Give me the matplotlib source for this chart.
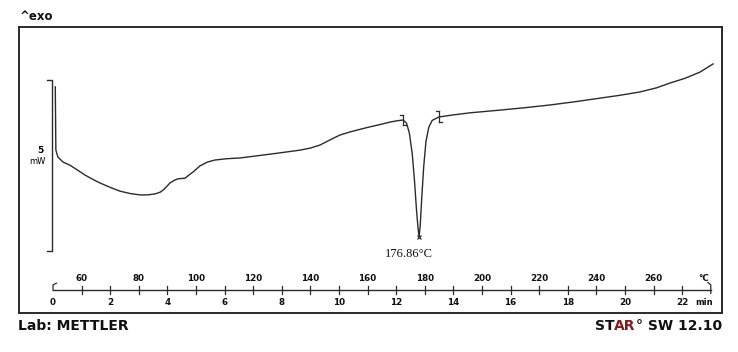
import matplotlib.pyplot as plt

# DSC curve: time (min) vs heat flow (mW, exo up)
time_min = [0.08, 0.10, 0.17, 0.35, 0.59, 0.85, 1.12, 1.38, 1.64, 2.00, 2.34,
            2.70, 3.04, 3.30, 3.57, 3.75, 3.85, 3.97, 4.09, 4.25, 4.37, 4.50,
            4.62, 4.75, 4.90, 5.14, 5.40, 5.66, 6.10, 6.54, 7.20, 7.94, 8.64,
            9.00, 9.34, 9.69, 10.03, 10.38, 10.70, 11.08, 11.45, 11.78, 12.05,
            12.24, 12.36, 12.46, 12.56, 12.64, 12.71, 12.76, 12.80, 12.84,
            12.89, 12.96, 13.04, 13.14, 13.26, 13.50, 14.00, 14.58, 15.63,
            16.50, 17.38, 18.30, 19.13, 19.80, 20.52, 21.10, 21.57, 22.10,
            22.62, 23.08]
heat_flow_mw = [4.80, 2.95, 2.75, 2.60, 2.51, 2.37, 2.22, 2.10, 1.99, 1.86,
                1.75, 1.68, 1.64, 1.64, 1.67, 1.72, 1.78, 1.88, 1.99, 2.07,
                2.11, 2.12, 2.13, 2.22, 2.31, 2.49, 2.60, 2.66, 2.70, 2.72,
                2.79, 2.87, 2.95, 3.01, 3.10, 3.25, 3.39, 3.48, 3.55, 3.63,
                3.70, 3.77, 3.81, 3.83, 3.74, 3.45, 2.85, 2.05, 1.20, 0.70,
                0.41, 0.75, 1.50, 2.45, 3.20, 3.62, 3.82, 3.92, 3.98, 4.04,
                4.12, 4.19, 4.27, 4.37, 4.47, 4.55, 4.65, 4.77, 4.91, 5.05,
                5.23, 5.47]

time_ticks = [0, 2, 4, 6, 8, 10, 12, 14, 16, 18, 20, 22]
temp_ticks = [60, 80, 100, 120, 140, 160, 180, 200, 220, 240, 260]
peak_label = "176.86°C"
peak_time, peak_value = 12.80, 0.41
limit_times = [12.24, 13.50]
limit_values = [3.83, 3.92]
scale_mw = 5

ink = "#2b2b2b"
W, H = 738, 352
fig = plt.figure(figsize=(W / 100, H / 100), dpi=100)

# axes box = drawn frame; map pixels of the scan to min / mW
px_per_min, x0 = 28.6, 53
px_per_mw, y0 = 34.2, 251
ax = fig.add_axes([19 / W, 1 - 313 / H, 703 / W, 286 / H])
ax.set_xlim((19 - x0) / px_per_min, (722 - x0) / px_per_min)
ax.set_ylim((y0 - 313) / px_per_mw, (y0 - 27) / px_per_mw)
ax.set_xticks([])
ax.set_yticks([])
for s in ax.spines.values():
    s.set_color(ink)
    s.set_linewidth(1.4)

# the curve
ax.plot(time_min, heat_flow_mw, color=ink, lw=1.0)
ax.plot(peak_time, peak_value, marker="x", color=ink, ms=3.5, mew=0.9)
ax.text(peak_time - 0.35, peak_value - 0.5, peak_label, ha="center", va="center",
        fontsize=9, family="Liberation Serif", color="#111")
for t, v in zip(limit_times, limit_values):
    ax.plot([t, t], [v - 0.16, v + 0.16], color=ink, lw=0.9)
    ax.plot([t - 0.1, t], [v + 0.16, v + 0.16], color=ink, lw=0.9)
    ax.plot([t, t + 0.1], [v - 0.16, v - 0.16], color=ink, lw=0.9)

# scale bar
sb_t = -0.05
ax.plot([sb_t - 0.15, sb_t, sb_t, sb_t - 0.15], [scale_mw, scale_mw, 0, 0],
        color=ink, lw=1.0)
ax.text(sb_t - 0.28, 2.95, str(scale_mw), ha="right", va="center", fontsize=6.5,
        fontweight="bold")
ax.text(sb_t - 0.2, 2.62, "mW", ha="right", va="center", fontsize=6)

# time / temperature ruler inside the frame
ry = (y0 - 290) / px_per_mw
ax.plot([0, 23], [ry, ry], color=ink, lw=1.0)
for t in range(1, 23):
    ax.plot([t, t], [ry - 0.12, ry + 0.12], color=ink, lw=0.9)
ax.plot([0, 0, 0.12], [ry, ry + 0.15, ry + 0.2], color=ink, lw=0.9)
ax.plot([23, 23, 22.9], [ry - 0.1, ry + 0.15, ry + 0.22], color=ink, lw=0.9)
for t in time_ticks:
    ax.text(t, ry - 0.38, str(t), ha="center", va="center", fontsize=6.3,
            fontweight="bold", color="#111")
for T in temp_ticks:
    ax.text((T - 50) / 10, ry + 0.35, str(T), ha="center", va="center",
            fontsize=6.3, fontweight="bold", color="#111")
ax.text(22.75, ry + 0.35, "°C", ha="center", va="center", fontsize=6.3,
        fontweight="bold", color="#111")
ax.text(22.75, ry - 0.38, "min", ha="center", va="center", fontsize=6,
        fontweight="bold", color="#111")

# labels outside the frame
fig.text(20 / W, 1 - 16 / H, "^exo", ha="left", va="center", fontsize=8.5,
         fontweight="bold", color="#111")
fig.text(18 / W, 1 - 326 / H, "Lab: METTLER", ha="left", va="center",
         fontsize=10, fontweight="bold", color="#111")

# "STAR° SW 12.10" with the AR in red, right-aligned to the frame
parts = [("ST", "#111"), ("AR", "#8b1a1a"), ("° SW 12.10", "#111")]
texts = [fig.text(0, 1 - 326 / H, s, ha="left", va="center", fontsize=10,
                  fontweight="bold", color=c) for s, c in parts]
fig.canvas.draw()
r = fig.canvas.get_renderer()
widths = [t.get_window_extent(r).width for t in texts]
x = 722 - sum(widths)
for t, w in zip(texts, widths):
    t.set_x(x / W)
    x += w

fig.savefig("out.png", dpi=100, facecolor="white")
